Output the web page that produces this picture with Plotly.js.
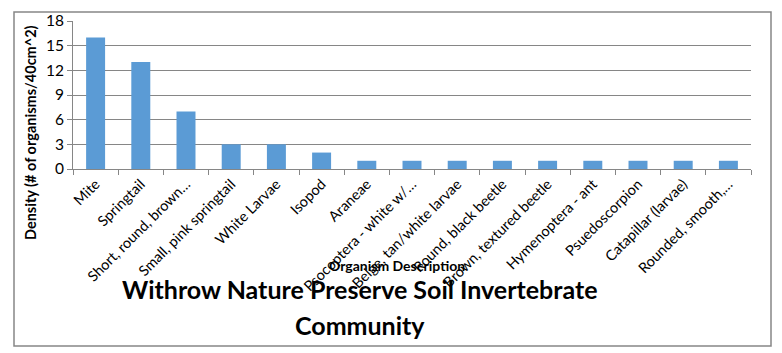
<!DOCTYPE html>
<html>
<head>
<meta charset="utf-8">
<script src="https://cdn.plot.ly/plotly-3.0.1.min.js"></script>
<style>html,body{margin:0;padding:0;background:#fff;}#chart{width:782px;height:353px;}</style>
</head>
<body>
<div id="chart"></div>
<script>
const categories = [
  "Mite", "Springtail", "Short, round, brown…", "Small, pink springtail",
  "White Larvae", "Isopod", "Araneae", "Psocoptera - white w/…",
  "Beige, tan/white larvae", "Round, black beetle", "Brown, textured beetle",
  "Hymenoptera - ant", "Psuedoscorpion", "Catapillar (larvae)", "Rounded, smooth,…"
];
const densities = [16, 13, 7, 3, 3, 2, 1, 1, 1, 1, 1, 1, 1, 1, 1];
const yTicks = [0, 3, 6, 9, 12, 15, 18];

const FONT = "Lato, 'Open Sans', sans-serif";
const trace = {
  type: "bar",
  x: categories,
  y: densities,
  marker: {color: "#5B9BD5"},
  width: 0.42,
  hoverinfo: "x+y"
};
const L = 73, R = 751, T = 21, B = 169;
const W = R - L, H = B - T;
const px = v => (v - L) / W;
const py = v => (B - v) / H;
const layout = {
  width: 782, height: 353,
  margin: {l: L, r: 782 - R, t: T, b: 353 - B, pad: 0},
  paper_bgcolor: "#fff", plot_bgcolor: "#fff",
  showlegend: false,
  font: {family: FONT, color: "#000"},
  bargap: 0.58,
  xaxis: {
    type: "category",
    tickangle: -45,
    tickfont: {size: 14.5, family: FONT, color: "#000"},
    showline: true, linecolor: "#868686", linewidth: 1,
    ticks: "outside", ticklen: 5, tickcolor: "#868686",
    tickson: "boundaries",
    showgrid: false,
    fixedrange: true
  },
  yaxis: {
    range: [0, 18],
    tickvals: yTicks,
    ticktext: yTicks.map(String),
    tickfont: {size: 15.5, family: FONT, color: "#000"},
    showline: true, linecolor: "#868686", linewidth: 1,
    ticks: "outside", ticklen: 5, tickcolor: "#868686",
    showgrid: true, gridcolor: "#868686", gridwidth: 1,
    zeroline: false,
    fixedrange: true
  },
  shapes: [{
    type: "rect", xref: "paper", yref: "paper",
    x0: px(14), x1: px(771), y0: py(346), y1: py(12),
    line: {color: "#868686", width: 1.5}, fillcolor: "rgba(0,0,0,0)", layer: "below"
  }],
  annotations: [
    {text: "<b>Density (# of organisms/40cm^2)</b>", textangle: -90,
     xref: "paper", yref: "paper", x: px(30), y: py(133), showarrow: false,
     font: {size: 14.5, family: FONT, color: "#000"}, xanchor: "center", yanchor: "middle"},
    {text: "<b>Organism Description</b>", xref: "paper", yref: "paper",
     x: px(397), y: py(265), showarrow: false,
     font: {size: 14, family: FONT, color: "#000"}, xanchor: "center", yanchor: "middle"},
    {text: "<b>Withrow Nature Preserve Soil Invertebrate</b>", xref: "paper", yref: "paper",
     x: px(360), y: py(289), showarrow: false,
     font: {size: 25, family: FONT, color: "#000"}, xanchor: "center", yanchor: "middle"},
    {text: "<b>Community</b>", xref: "paper", yref: "paper",
     x: px(360), y: py(325), showarrow: false,
     font: {size: 25, family: FONT, color: "#000"}, xanchor: "center", yanchor: "middle"}
  ]
};
Plotly.newPlot("chart", [trace], layout, {displayModeBar: false, staticPlot: true});
</script>
</body>
</html>
